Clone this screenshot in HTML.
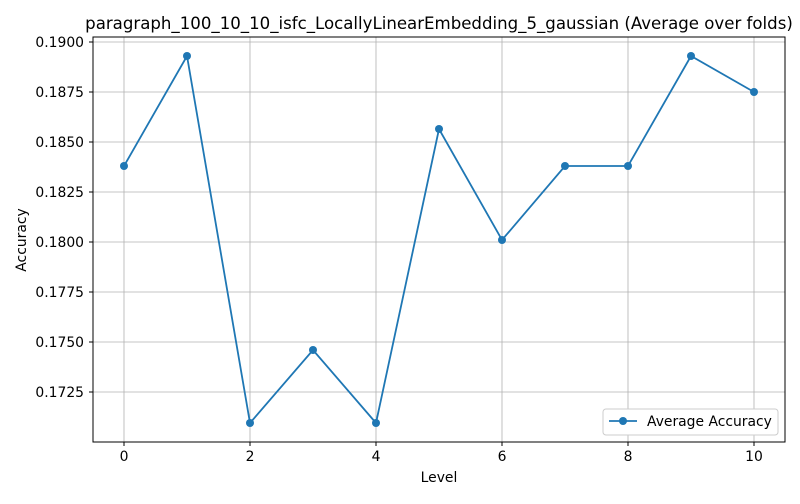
<!DOCTYPE html>
<html><head><meta charset="utf-8"><style>
body{margin:0;background:#fff;font-family:"DejaVu Sans","Liberation Sans",sans-serif;}
</style></head><body>
<svg id="chart" width="800" height="500" xmlns="http://www.w3.org/2000/svg" font-family="DejaVu Sans, Liberation Sans, sans-serif">
<rect width="800" height="500" fill="#fff"/>
<g id="grid"></g><g id="axes"></g><g id="series"></g>
<text x="439" y="29" text-anchor="middle" font-size="16.6" fill="#000">paragraph_100_10_10_isfc_LocallyLinearEmbedding_5_gaussian (Average over folds)</text>
<text x="439" y="482" text-anchor="middle" font-size="13.9">Level</text>
<text x="26" y="240" text-anchor="middle" font-size="13.9" transform="rotate(-90 26 240)">Accuracy</text>
<g>
<rect x="603" y="409" width="175" height="26" rx="3" fill="#fff" stroke="#ccc"/>
<line x1="609" y1="421" x2="637" y2="421" stroke="#1f77b4" stroke-width="1.8"/>
<circle cx="623" cy="421" r="4" fill="#1f77b4"/>
<text x="647" y="426" font-size="13.9">Average Accuracy</text>
</g>
</svg>
<script>
const levels=[0,1,2,3,4,5,6,7,8,9,10];
const accuracy=[0.1838,0.1893,0.17095,0.1746,0.17095,0.18565,0.1801,0.1838,0.1838,0.1893,0.1875];
const xTicks=[0,2,4,6,8,10];
const yTicks=[0.1725,0.1750,0.1775,0.1800,0.1825,0.1850,0.1875,0.1900];
const L=93,R=785,T=37,B=442;
const X=v=>124+v*63;
const Y=v=>42+(0.19-v)*20000;
const NS="http://www.w3.org/2000/svg";
function mk(t,a,p){const e=document.createElementNS(NS,t);for(const k in a)e.setAttribute(k,a[k]);p.appendChild(e);return e;}
const g=document.getElementById('grid'),ax=document.getElementById('axes'),s=document.getElementById('series');
xTicks.forEach(v=>{const x=X(v);
const gl=mk('line',{x1:x,x2:x,y1:T,y2:B,stroke:'#b0b0b0','stroke-width':0.8},g);

mk('line',{x1:x,x2:x,y1:B,y2:B+4,stroke:'#000'},ax);
const t=mk('text',{x:x,y:B+19,'text-anchor':'middle','font-size':13.9},ax);t.textContent=v;
});
yTicks.forEach(v=>{const y=Y(v);
const gl=mk('line',{x1:L,x2:R,y1:y,y2:y,stroke:'#b0b0b0','stroke-width':0.8},g);

mk('line',{x1:L-4,x2:L,y1:y,y2:y,stroke:'#000'},ax);
const t=mk('text',{x:L-9,y:y+5,'text-anchor':'end','font-size':13.9},ax);t.textContent=v.toFixed(4);
});
const fr=mk('rect',{x:L,y:T,width:R-L,height:B-T,fill:'none',stroke:'#000','stroke-width':1},ax);

const pts=levels.map((l,i)=>X(l)+','+Y(accuracy[i])).join(' ');
const pl=mk('polyline',{points:pts,fill:'none',stroke:'#1f77b4','stroke-width':1.8},s);

levels.forEach((l,i)=>{const c=mk('circle',{cx:X(l),cy:Y(accuracy[i]),r:4,fill:'#1f77b4'},s);
});
</script>
</body></html>
